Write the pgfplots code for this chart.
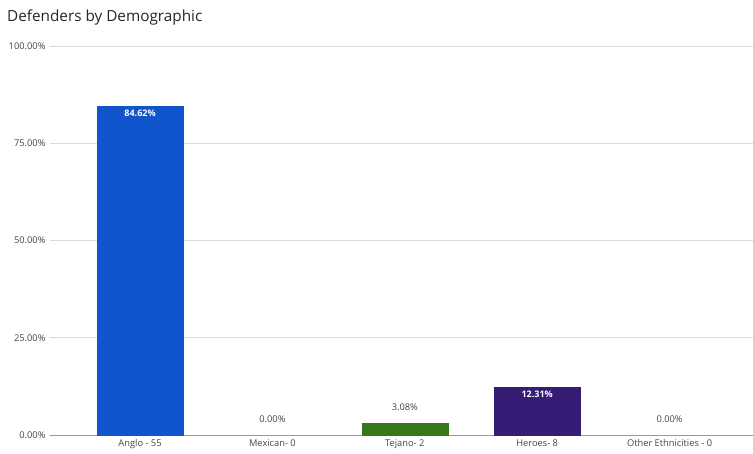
\documentclass[border=0pt]{standalone}
\usepackage{pgfplots}
\pgfplotsset{compat=1.18}
\usepackage{fontspec}
\setmainfont{Open Sans}
\definecolor{cblue}{HTML}{1155CC}
\definecolor{cgreen}{HTML}{38761D}
\definecolor{cpurple}{HTML}{351C75}
\definecolor{ctext}{HTML}{444444}
\definecolor{cgrid}{HTML}{D9D9D9}
\definecolor{cbase}{HTML}{999999}
\begin{document}
\begin{tikzpicture}[x=1pt,y=1pt]
\useasboundingbox (0,0) rectangle (753,453);
\node[anchor=base west, inner sep=0pt, font=\fontsize{15.3}{18}\selectfont, text=black!85] at (7,431) {Defenders by Demographic};
\begin{axis}[
  at={(50pt,18pt)}, anchor=south west,
  scale only axis, width=703pt, height=389pt,
  xmin=-0.68, xmax=4.63, ymin=0, ymax=100,
  ybar, bar width=86pt,
  axis x line*=bottom, axis y line*=left,
  x axis line style={draw=cbase, -},
  y axis line style={draw=none},
  major tick length=0pt,
  ymajorgrids, grid style={cgrid, line width=0.6pt},
  ytick={0,25,50,75,100},
  yticklabels={0.00\%,25.00\%,50.00\%,75.00\%,100.00\%},
  xtick={0,1,2,3,4},
  xticklabels={Anglo - 55,Mexican- 0,Tejano- 2,Heroes- 8,Other Ethnicities - 0},
  tick label style={font=\fontsize{9.3}{11}\selectfont, text=ctext},
  yticklabel style={xshift=-1pt},
  xticklabel style={yshift=-1pt},
  /pgf/number format/assume math mode=true,
  clip=false,
]
% labels inside bars
\addplot[bar shift=0pt, fill=cblue, draw=cblue,
  nodes near coords={\pgfmathprintnumber[fixed,fixed zerofill,precision=2]{\pgfplotspointmeta}\%},
  nodes near coords align={below},
  every node near coord/.style={text=white, font=\bfseries\fontsize{9}{10}\selectfont, inner sep=0pt, yshift=-4pt}]
  coordinates {(0,84.62)};
\addplot[bar shift=0pt, fill=cpurple, draw=cpurple,
  nodes near coords={\pgfmathprintnumber[fixed,fixed zerofill,precision=2]{\pgfplotspointmeta}\%},
  nodes near coords align={below},
  every node near coord/.style={text=white, font=\bfseries\fontsize{9}{10}\selectfont, inner sep=0pt, yshift=-4pt}]
  coordinates {(3,12.31)};
% labels above bars
\addplot[bar shift=0pt, fill=cgreen, draw=cgreen,
  nodes near coords={\pgfmathprintnumber[fixed,fixed zerofill,precision=2]{\pgfplotspointmeta}\%},
  nodes near coords align={above},
  every node near coord/.style={text=ctext, font=\fontsize{9.3}{11}\selectfont, inner sep=0pt, yshift=12pt}]
  coordinates {(2,3.08)};
\addplot[bar shift=0pt, draw=none, fill=none,
  nodes near coords={\pgfmathprintnumber[fixed,fixed zerofill,precision=2]{\pgfplotspointmeta}\%},
  nodes near coords align={above},
  every node near coord/.style={text=ctext, font=\fontsize{9.3}{11}\selectfont, inner sep=0pt, yshift=12pt}]
  coordinates {(1,0) (4,0)};
\end{axis}
\end{tikzpicture}
\end{document}
